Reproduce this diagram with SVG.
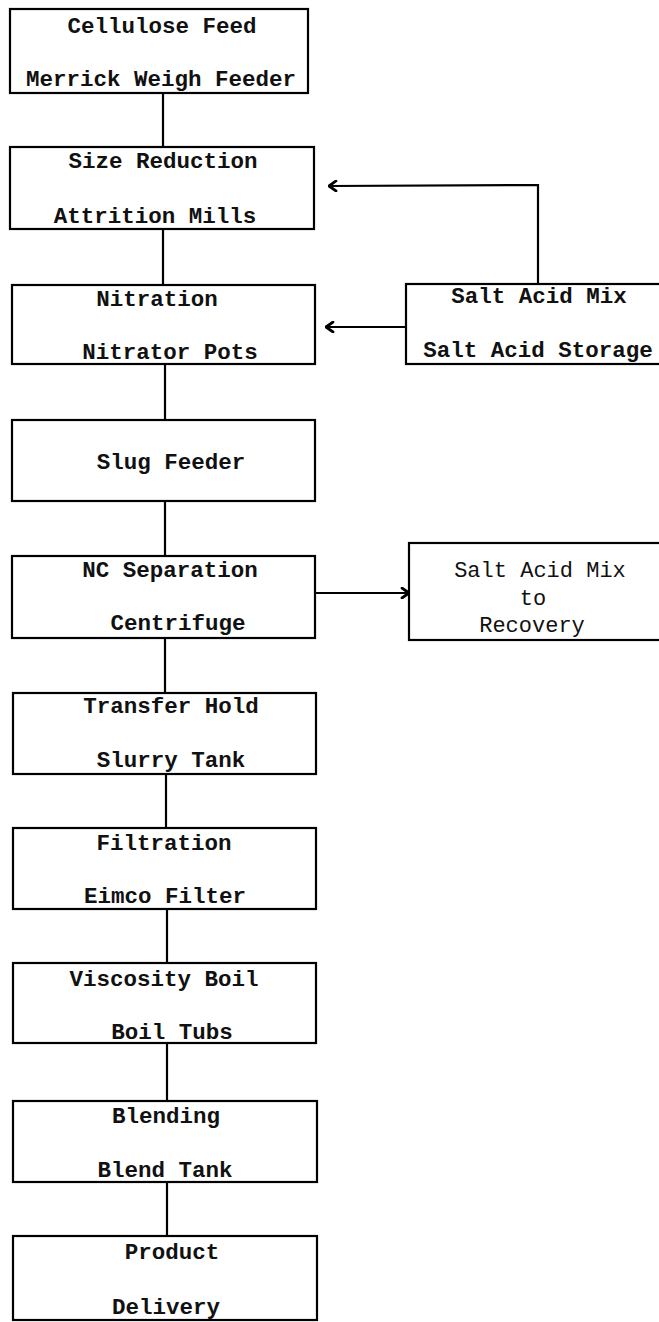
<svg xmlns="http://www.w3.org/2000/svg" width="659" height="1322" viewBox="0 0 659 1322">
<style>
.box{fill:#fff;stroke:#000;stroke-width:2.2}
.t{font-family:"Liberation Mono","Courier New",monospace;font-size:22.5px;font-weight:bold;fill:#111;text-anchor:middle}
.tl{font-family:"Liberation Mono","Courier New",monospace;font-size:22px;fill:#111;text-anchor:middle}
.c{fill:none;stroke:#000;stroke-width:2.2}
</style>
<defs>
<marker id="ah" viewBox="0 0 10 12" refX="9" refY="6" markerWidth="10" markerHeight="12" orient="auto" markerUnits="userSpaceOnUse">
<polyline points="2,1 9,6 2,11" fill="none" stroke="#000" stroke-width="2.8" stroke-linecap="round" stroke-linejoin="round"/>
</marker>
</defs>
<rect width="659" height="1322" fill="#fff"/>
<g id="connectors">
<line class="c" x1="163" y1="93" x2="163" y2="147"/>
<line class="c" x1="163" y1="229" x2="163" y2="285"/>
<line class="c" x1="165" y1="364" x2="165" y2="420"/>
<line class="c" x1="165" y1="501" x2="165" y2="556"/>
<line class="c" x1="165" y1="638" x2="165" y2="693"/>
<line class="c" x1="166" y1="774" x2="166" y2="828"/>
<line class="c" x1="167" y1="909" x2="167" y2="963"/>
<line class="c" x1="167" y1="1043" x2="167" y2="1101"/>
<line class="c" x1="167" y1="1182" x2="167" y2="1236"/>
<polyline class="c" points="538,284 538,185 329,186" marker-end="url(#ah)"/>
<line class="c" x1="406" y1="327" x2="326" y2="327" marker-end="url(#ah)"/>
<line class="c" x1="315" y1="593" x2="409" y2="593" marker-end="url(#ah)"/>
</g>
<g id="n1"><rect class="box" x="10" y="9" width="298" height="84"/>
<text class="t" x="162" y="33">Cellulose Feed</text><text class="t" x="161" y="86">Merrick Weigh Feeder</text></g>
<g id="n2"><rect class="box" x="10" y="147" width="304" height="82"/>
<text class="t" x="163" y="168">Size Reduction</text><text class="t" x="155" y="223">Attrition Mills</text></g>
<g id="n3"><rect class="box" x="12" y="285" width="303" height="79"/>
<text class="t" x="157" y="306">Nitration</text><text class="t" x="170" y="359">Nitrator Pots</text></g>
<g id="n4"><rect class="box" x="12" y="420" width="303" height="81"/>
<text class="t" x="171" y="469">Slug Feeder</text></g>
<g id="n5"><rect class="box" x="12" y="556" width="303" height="82"/>
<text class="t" x="170" y="577">NC Separation</text><text class="t" x="178" y="630">Centrifuge</text></g>
<g id="n6"><rect class="box" x="13" y="693" width="303" height="81"/>
<text class="t" x="171" y="713">Transfer Hold</text><text class="t" x="171" y="767">Slurry Tank</text></g>
<g id="n7"><rect class="box" x="13" y="828" width="303" height="81"/>
<text class="t" x="164" y="850">Filtration</text><text class="t" x="165" y="903">Eimco Filter</text></g>
<g id="n8"><rect class="box" x="13" y="963" width="303" height="80"/>
<text class="t" x="164" y="986">Viscosity Boil</text><text class="t" x="172" y="1039">Boil Tubs</text></g>
<g id="n9"><rect class="box" x="13" y="1101" width="304" height="81"/>
<text class="t" x="166" y="1123">Blending</text><text class="t" x="165" y="1177">Blend Tank</text></g>
<g id="n10"><rect class="box" x="13" y="1236" width="304" height="84"/>
<text class="t" x="172" y="1259">Product</text><text class="t" x="166" y="1314">Delivery</text></g>
<g id="n11"><rect class="box" x="406" y="284" width="270" height="80"/>
<text class="t" x="539" y="303">Salt Acid Mix</text><text class="t" x="538" y="357">Salt Acid Storage</text></g>
<g id="n12"><rect class="box" x="409" y="543" width="270" height="97"/>
<text class="tl" x="540" y="577">Salt Acid Mix</text><text class="tl" x="533" y="605">to</text><text class="tl" x="532" y="632">Recovery</text></g>
</svg>
